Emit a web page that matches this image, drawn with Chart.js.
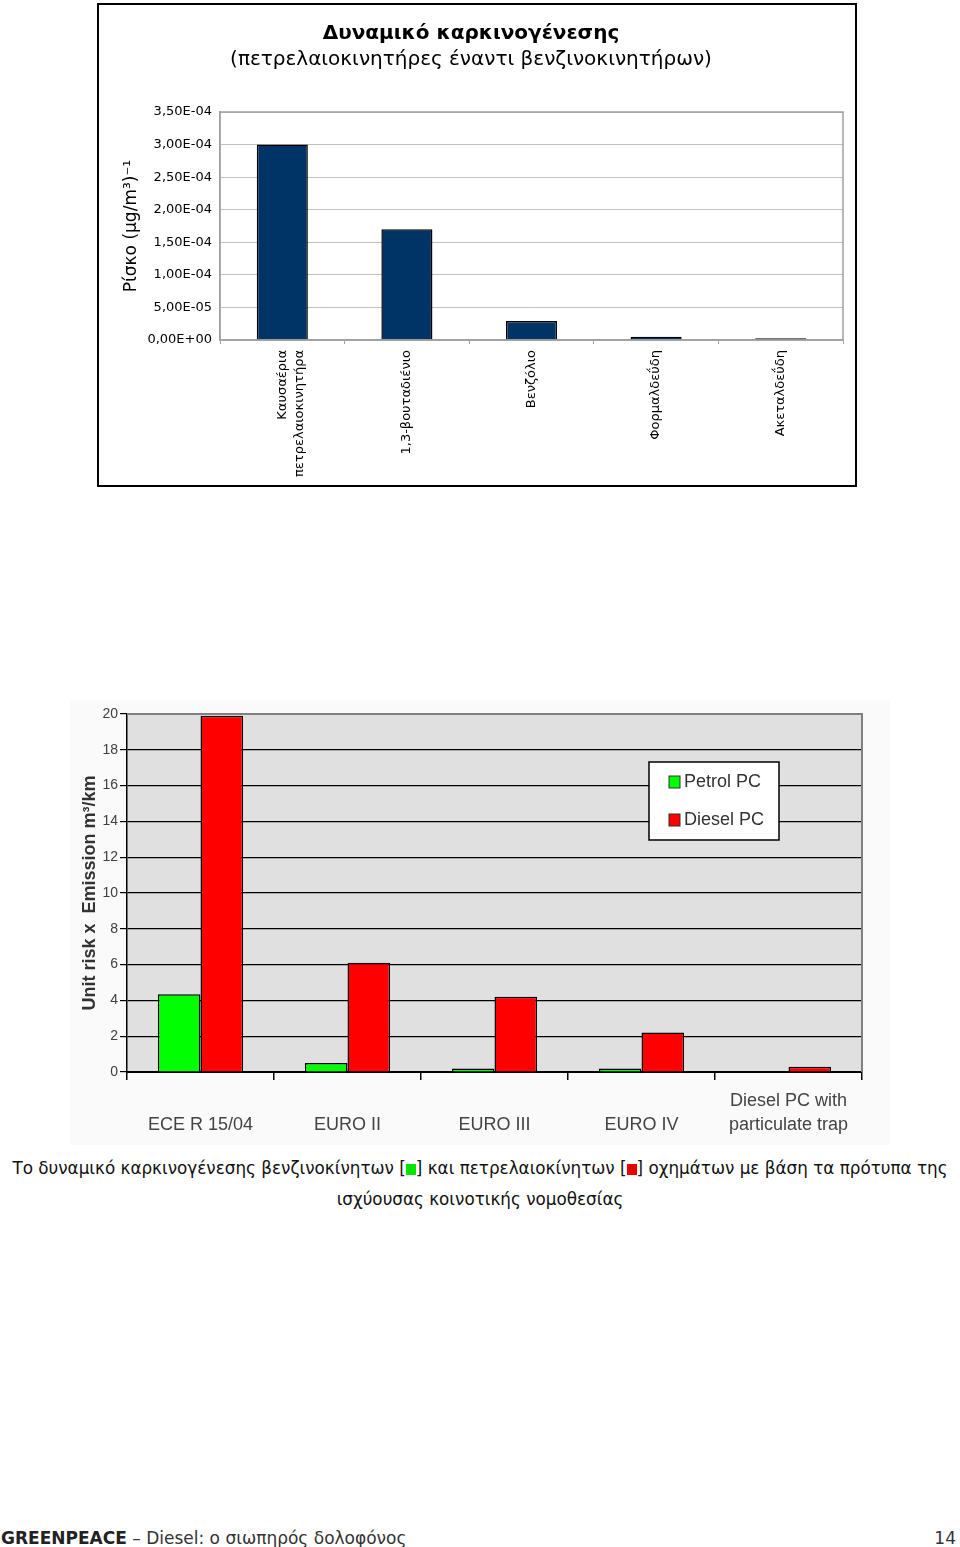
<!DOCTYPE html>
<html>
<head>
<meta charset="utf-8">
<script src="https://cdn.jsdelivr.net/npm/chart.js@4/dist/chart.umd.min.js"></script>
<style>
  html, body { margin: 0; padding: 0; background: #fff; }
  body { width: 960px; height: 1547px; position: relative; overflow: hidden; font-family: "DejaVu Sans", Verdana, sans-serif; }
  #box1 { position: absolute; left: 97px; top: 3px; width: 756px; height: 480px; border: 2px solid #000; }
  #box2 { position: absolute; left: 70px; top: 700px; width: 820px; height: 445px; background: #fafafa; }
  .caption { position: absolute; left: 0; top: 1153px; width: 960px; text-align: center; font-size: 16.8px; line-height: 31px; color: #111; }
  .sq { display: inline-block; width: 10px; height: 11px; vertical-align: -1px; }
  .footer { position: absolute; left: 1px; top: 1528px; width: 955px; font-size: 17px; color: #333; }
  .footer b { color: #222; }
  .footer .pg { position: absolute; right: 0; top: 0; }
</style>
</head>
<body>
<div id="box1"><canvas id="c1" width="756" height="480"></canvas></div>
<div id="box2"><canvas id="c2" width="820" height="445"></canvas></div>
<div class="caption">Το δυναμικό καρκινογένεσης βενζινοκίνητων [<span class="sq" style="background:#00e600"></span>] και πετρελαιοκίνητων [<span class="sq" style="background:#e60000"></span>] οχημάτων με βάση τα πρότυπα της<br>ισχύουσας κοινοτικής νομοθεσίας</div>
<div class="footer"><b>GREENPEACE</b> – Diesel: ο σιωπηρός δολοφόνος<span class="pg">14</span></div>

<script>
// ---- chart 1 data ----
const pollutants = [['Καυσαέρια', 'πετρελαιοκινητήρα'], '1,3-βουταδιένιο', 'Βενζόλιο', 'Φορμαλδεΰδη', 'Ακεταλδεΰδη'];
const riskValues = [3.0e-4, 1.7e-4, 2.9e-5, 5e-6, 2.5e-6];
const riskTicks = [0, 5e-5, 1e-4, 1.5e-4, 2e-4, 2.5e-4, 3e-4, 3.5e-4];
const riskTickLabels = ['0,00E+00', '5,00E-05', '1,00E-04', '1,50E-04', '2,00E-04', '2,50E-04', '3,00E-04', '3,50E-04'];

// ---- chart 2 data ----
const standards = ['ECE R 15/04', 'EURO II', 'EURO III', 'EURO IV', ['Diesel PC with', 'particulate trap']];
const petrolPC = [4.35, 0.5, 0.2, 0.2, null];
const dieselPC = [19.9, 6.1, 4.2, 2.2, 0.3];

const FONT = '"DejaVu Sans", Verdana, sans-serif';
const ARIAL = '"Liberation Sans", Arial, sans-serif';

// gray frame round the plot area
const frame1 = {
    id: 'frame1',
    afterDraw(chart) {
        const {ctx, chartArea: a} = chart;
        ctx.save();
        ctx.strokeStyle = '#a0a0a0';
        ctx.lineWidth = 1.5;
        ctx.strokeRect(a.left, a.top, a.right - a.left, a.bottom - a.top);
        ctx.restore();
    }
};

new Chart(document.getElementById('c1'), {
    type: 'bar',
    data: {
        labels: pollutants,
        datasets: [{
            data: riskValues,
            backgroundColor: '#003366',
            borderColor: '#000',
            borderWidth: 1.5,
            barPercentage: 0.41,
            categoryPercentage: 1
        }]
    },
    options: {
        responsive: false,
        animation: false,
        devicePixelRatio: 1,
        layout: {padding: {left: 0, right: 12, top: 0, bottom: 0}},
        plugins: {
            legend: {display: false},
            tooltip: {enabled: false},
            title: {
                display: true,
                text: 'Δυναμικό καρκινογένεσης',
                color: '#000',
                font: {family: FONT, size: 20, weight: 'bold', lineHeight: 1.3},
                padding: {top: 16, bottom: 0}
            },
            subtitle: {
                display: true,
                text: '(πετρελαιοκινητήρες έναντι βενζινοκινητήρων)',
                color: '#000',
                font: {family: FONT, size: 20, weight: 'normal', lineHeight: 1.3},
                padding: {top: 0, bottom: 39}
            }
        },
        scales: {
            x: {
                grid: {display: true, offset: true, drawOnChartArea: false, tickLength: 4, color: '#a0a0a0'},
                border: {color: '#a0a0a0', width: 1.5},
                ticks: {
                    autoSkip: false, minRotation: 90, maxRotation: 90, padding: 6,
                    color: '#000', font: {family: FONT, size: 13, lineHeight: 1.35}
                },
                afterFit: s => { s.height = 145; }
            },
            y: {
                min: 0, max: 3.5e-4,
                afterBuildTicks: axis => { axis.ticks = riskTicks.map(v => ({value: v})); },
                grid: {color: '#c0c0c0', lineWidth: 1, drawTicks: false},
                border: {color: '#a0a0a0', width: 1.5},
                ticks: {
                    padding: 8, color: '#000', font: {family: FONT, size: 13},
                    callback: (v, i) => riskTickLabels[i]
                },
                title: {
                    display: true, text: 'Ρίσκο (μg/m³)⁻¹', color: '#000',
                    font: {family: FONT, size: 17, lineHeight: 1.2}, padding: {top: 22, bottom: 0}
                },
                afterFit: s => { s.width = 121; }
            }
        }
    },
    plugins: [frame1]
});

// gray plot background, gray top/right border, legend box inside
const plot2 = {
    id: 'plot2',
    beforeDraw(chart) {
        const {ctx, chartArea: a} = chart;
        ctx.save();
        ctx.fillStyle = '#e0e0e0';
        ctx.fillRect(a.left, a.top, a.right - a.left, a.bottom - a.top);
        ctx.restore();
    },
    afterDraw(chart) {
        const {ctx, chartArea: a} = chart;
        ctx.save();
        ctx.strokeStyle = '#808080';
        ctx.lineWidth = 2;
        ctx.beginPath();
        ctx.moveTo(a.left, a.top);
        ctx.lineTo(a.right, a.top);
        ctx.lineTo(a.right, a.bottom);
        ctx.stroke();

        // legend
        const lx = a.left + 522, ly = a.top + 48, lw = 130, lh = 78;
        ctx.fillStyle = '#fff';
        ctx.fillRect(lx, ly, lw, lh);
        ctx.strokeStyle = '#000';
        ctx.lineWidth = 1.5;
        ctx.strokeRect(lx, ly, lw, lh);
        ctx.font = '18px ' + ARIAL;
        ctx.textBaseline = 'middle';
        chart.data.datasets.forEach((ds, i) => {
            const y = ly + 20 + i * 38;
            ctx.fillStyle = ds.backgroundColor;
            ctx.fillRect(lx + 20, y - 6, 11, 12);
            ctx.strokeStyle = '#333';
            ctx.lineWidth = 1;
            ctx.strokeRect(lx + 20, y - 6, 11, 12);
            ctx.fillStyle = '#333';
            ctx.fillText(ds.label, lx + 35, y);
        });
        ctx.restore();
    }
};

new Chart(document.getElementById('c2'), {
    type: 'bar',
    data: {
        labels: standards,
        datasets: [
            {label: 'Petrol PC', data: petrolPC, backgroundColor: '#00ff00', borderColor: '#000', borderWidth: 1.5},
            {label: 'Diesel PC', data: dieselPC, backgroundColor: '#ff0000', borderColor: '#000', borderWidth: 1.5}
        ]
    },
    options: {
        responsive: false,
        animation: false,
        devicePixelRatio: 1,
        datasets: {bar: {barPercentage: 1, categoryPercentage: 0.58}},
        layout: {padding: {left: 0, right: 28, top: 14, bottom: 0}},
        plugins: {
            legend: {display: false},
            tooltip: {enabled: false}
        },
        scales: {
            x: {
                offset: true,
                grid: {display: true, offset: true, drawOnChartArea: false, tickLength: 8, color: '#000', lineWidth: 1.5},
                border: {color: '#000', width: 2},
                ticks: {
                    autoSkip: false, maxRotation: 0, minRotation: 0, padding: 21, crossAlign: 'far',
                    color: '#444', font: {family: ARIAL, size: 18, lineHeight: 1.33}
                },
                afterFit: s => { s.height = 73; }
            },
            y: {
                min: 0, max: 20,
                ticks: {stepSize: 2, padding: 2, color: '#404040', font: {family: ARIAL, size: 14}},
                grid: {color: '#000', lineWidth: 1.2, tickLength: 7},
                border: {color: '#000', width: 1.5},
                title: {
                    display: true, text: 'Unit risk x  Emission m³/km', color: '#333',
                    font: {family: ARIAL, size: 18, weight: 'bold', lineHeight: 1.2}, padding: {top: 9, bottom: 0}
                },
                afterFit: s => { s.width = 57; }
            }
        }
    },
    plugins: [plot2]
});
</script>
</body>
</html>
